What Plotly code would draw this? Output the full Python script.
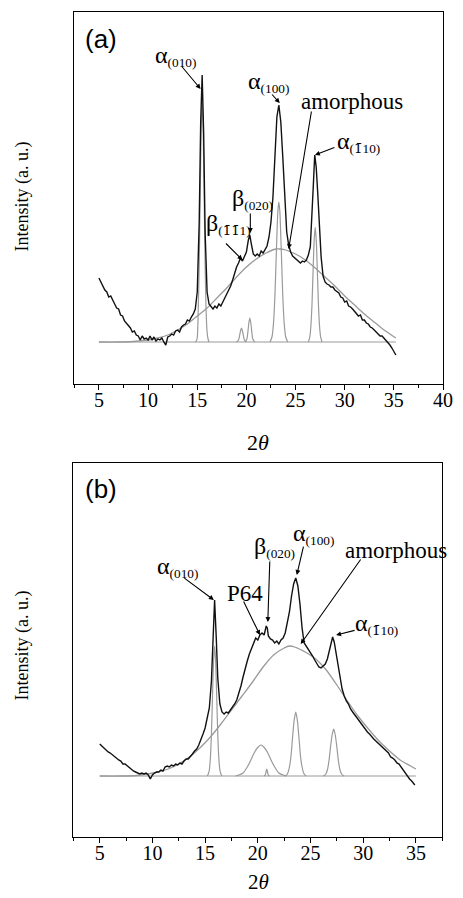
import plotly.graph_objects as go

# ---------------- Panel (a) data ----------------
a_meas_x = [5.0,5.2,5.4,5.6,5.8,6.0,6.2,6.4,6.6,6.8,7.0,7.2,7.4,7.6,7.8,8.0,8.2,8.4,8.6,8.8,9.0,9.2,9.4,9.6,9.8,
            10.0,10.2,10.4,10.6,10.8,11.0,11.2,11.4,11.6,11.8,12.0,12.2,12.4,12.6,12.8,13.0,13.2,13.4,13.6,13.8,
            14.0,14.2,14.4,14.6,14.8,15.0,15.2,15.35,15.5,15.65,15.8,16.0,16.2,16.4,16.6,16.8,17.0,17.2,17.4,17.6,
            17.8,18.0,18.2,18.4,18.6,18.8,19.0,19.2,19.4,19.6,19.8,20.0,20.2,20.35,20.5,20.7,20.9,21.1,21.3,21.5,
            21.7,21.9,22.1,22.3,22.5,22.7,22.9,23.1,23.3,23.5,23.7,23.9,24.1,24.3,24.5,24.7,24.9,25.1,25.3,25.5,
            25.7,25.9,26.1,26.3,26.5,26.65,26.8,26.95,27.1,27.25,27.4,27.6,27.8,28.0,28.2,28.4,28.6,28.8,29.0,
            29.2,29.4,29.6,29.8,30.0,30.2,30.4,30.6,30.8,31.0,31.2,31.4,31.6,31.8,32.0,32.2,32.4,32.6,32.8,33.0,
            33.2,33.4,33.6,33.8,34.0,34.2,34.4,34.6,34.8,35.0,35.2]
a_meas_y = [0.64,0.60,0.57,0.52,0.50,0.45,0.46,0.41,0.38,0.34,0.33,0.27,0.26,0.21,0.19,0.16,0.14,0.10,0.11,0.07,0.06,0.02,0.06,0.03,0.04,
            0.02,0.06,0.02,0.05,0.01,0.03,0.02,0.04,0.00,-0.03,0.05,0.06,0.08,0.07,0.11,0.12,0.10,0.15,0.17,0.18,
            0.22,0.21,0.25,0.28,0.33,0.50,1.20,2.20,2.67,2.10,1.10,0.50,0.38,0.35,0.33,0.36,0.34,0.38,0.36,0.40,
            0.44,0.47,0.52,0.56,0.62,0.70,0.75,0.79,0.84,0.81,0.85,0.90,1.02,1.07,0.98,0.88,0.86,0.88,0.86,0.91,
            0.89,0.93,0.96,1.05,1.20,1.45,1.85,2.25,2.37,2.20,1.85,1.40,1.10,0.97,0.90,0.86,0.84,0.82,0.80,0.79,
            0.81,0.80,0.82,0.87,0.95,1.20,1.55,1.87,1.75,1.50,1.15,0.85,0.66,0.60,0.58,0.57,0.55,0.55,0.52,
            0.50,0.49,0.45,0.44,0.40,0.41,0.36,0.35,0.33,0.31,0.29,0.26,0.27,0.22,0.22,0.19,0.18,0.15,0.14,0.12,
            0.10,0.09,0.06,0.06,0.04,0.02,-0.01,-0.03,-0.06,-0.10,-0.13]
a_amor_x = [5.0,7.0,8.5,10.0,11.0,12.0,13.0,14.0,15.0,16.0,17.0,18.0,19.0,20.0,21.0,22.0,23.0,23.5,24.0,25.0,
            26.0,27.0,28.0,29.0,30.0,31.0,32.0,33.0,34.0,35.2]
a_amor_y = [0.0,0.0,0.005,0.02,0.04,0.07,0.12,0.18,0.26,0.34,0.44,0.54,0.65,0.75,0.83,0.89,0.93,0.93,0.92,0.88,
            0.82,0.74,0.65,0.56,0.46,0.37,0.28,0.20,0.12,0.04]
a_base_x = [5.0, 35.2]
a_base_y = [0.0, 0.0]
a_p010_x = [14.8,14.9,15.0,15.1,15.2,15.3,15.4,15.5,15.6,15.7,15.8,15.9,16.0,16.1,16.2]
a_p010_y = [0.0,0.01,0.04,0.32,0.78,1.46,2.12,2.40,2.12,1.46,0.78,0.32,0.10,0.03,0.0]
a_b111_x = [19.0,19.2,19.3,19.4,19.5,19.6,19.7,19.8,20.0]
a_b111_y = [0.0,0.02,0.06,0.11,0.14,0.11,0.06,0.02,0.0]
a_b020_x = [19.85,20.05,20.15,20.25,20.35,20.45,20.55,20.65,20.85]
a_b020_y = [0.0,0.03,0.10,0.19,0.24,0.19,0.10,0.03,0.0]
a_p100_x = [22.4,22.6,22.75,22.9,23.05,23.2,23.3,23.4,23.55,23.7,23.85,24.0,24.2]
a_p100_y = [0.0,0.05,0.18,0.46,0.91,1.31,1.40,1.31,0.91,0.46,0.18,0.05,0.0]
a_p110_x = [26.3,26.45,26.56,26.67,26.78,26.89,27.0,27.11,27.22,27.33,27.44,27.55,27.7]
a_p110_y = [0.0,0.05,0.16,0.37,0.70,1.01,1.15,1.01,0.70,0.37,0.16,0.05,0.0]

# ---------------- Panel (b) data ----------------
b_meas_x = [5.0,5.2,5.4,5.6,5.8,6.0,6.2,6.4,6.6,6.8,7.0,7.2,7.4,7.6,7.8,8.0,8.2,8.4,8.6,8.8,9.0,9.2,9.4,9.6,9.8,
            10.0,10.2,10.4,10.6,10.8,11.0,11.2,11.4,11.6,11.8,12.0,12.2,12.4,12.6,12.8,13.0,13.2,13.4,13.6,13.8,
            14.0,14.2,14.4,14.6,14.8,15.0,15.2,15.4,15.6,15.75,15.9,16.05,16.2,16.4,16.6,16.8,17.0,17.2,17.4,17.6,
            17.8,18.0,18.2,18.4,18.6,18.8,19.0,19.2,19.4,19.6,19.8,20.0,20.2,20.4,20.6,20.8,20.9,21.0,21.2,21.4,
            21.6,21.8,22.0,22.2,22.4,22.6,22.8,23.0,23.2,23.4,23.6,23.8,24.0,24.2,24.4,24.6,24.8,25.0,25.2,25.4,
            25.6,25.8,26.0,26.2,26.4,26.6,26.8,27.0,27.1,27.25,27.4,27.6,27.8,28.0,28.2,28.4,28.6,28.8,29.0,29.2,
            29.4,29.6,29.8,30.0,30.2,30.4,30.6,30.8,31.0,31.2,31.4,31.6,31.8,32.0,32.2,32.4,32.6,32.8,33.0,33.2,
            33.4,33.6,33.8,34.0,34.2,34.4,34.6,34.8,34.9]
b_meas_y = [0.32,0.30,0.28,0.26,0.24,0.23,0.21,0.20,0.17,0.16,0.15,0.12,0.12,0.10,0.08,0.07,0.05,0.04,0.03,0.02,0.03,0.02,0.03,0.01,-0.03,
            0.01,0.03,0.04,0.04,0.06,0.05,0.09,0.10,0.09,0.11,0.10,0.12,0.11,0.13,0.12,0.15,0.17,0.17,0.19,0.22,
            0.25,0.27,0.31,0.36,0.42,0.48,0.57,0.68,0.95,1.45,1.76,1.40,0.98,0.72,0.64,0.62,0.64,0.63,0.66,0.68,
            0.72,0.76,0.82,0.90,0.99,1.08,1.15,1.22,1.28,1.34,1.38,1.36,1.41,1.43,1.41,1.50,1.48,1.40,1.37,1.36,
            1.33,1.35,1.32,1.36,1.38,1.43,1.52,1.64,1.80,1.92,1.98,1.90,1.72,1.48,1.33,1.30,1.27,1.23,1.20,1.16,
            1.12,1.09,1.08,1.10,1.12,1.17,1.27,1.36,1.39,1.34,1.24,1.12,0.98,0.87,0.80,0.75,0.72,0.67,0.64,0.61,
            0.58,0.56,0.52,0.50,0.47,0.44,0.42,0.39,0.37,0.35,0.33,0.30,0.29,0.26,0.25,0.23,0.19,0.18,0.16,0.13,
            0.12,0.09,0.06,0.03,-0.01,-0.03,-0.05,-0.08,-0.09]
b_amor_x = [5.0,7.0,8.5,9.5,10.5,11.5,12.5,13.5,14.5,15.5,16.5,17.5,18.5,19.5,20.5,21.5,22.5,23.0,23.5,24.5,
            25.5,26.5,27.5,28.5,29.5,30.5,31.5,32.5,33.5,34.5,35.0]
b_amor_y = [0.0,0.0,0.005,0.02,0.04,0.07,0.12,0.19,0.28,0.39,0.52,0.66,0.80,0.94,1.09,1.21,1.28,1.30,1.29,1.24,
            1.17,1.06,0.91,0.75,0.60,0.47,0.35,0.25,0.16,0.10,0.07]
b_base_x = [5.0, 35.0]
b_base_y = [0.0, 0.0]
b_p010_x = [15.2,15.3,15.4,15.5,15.6,15.7,15.8,15.9,16.0,16.1,16.2,16.3,16.4,16.5,16.6]
b_p010_y = [0.0,0.02,0.06,0.18,0.42,0.79,1.15,1.30,1.15,0.79,0.42,0.18,0.06,0.02,0.0]
b_p64_x = [17.9,18.2,18.6,19.0,19.3,19.6,19.95,20.3,20.65,21.0,21.3,21.6,22.0,22.4,22.7]
b_p64_y = [0.0,0.01,0.03,0.09,0.15,0.22,0.28,0.31,0.28,0.22,0.15,0.09,0.03,0.01,0.0]
b_b020_x = [20.6,20.7,20.78,20.85,20.92,21.0,21.1]
b_b020_y = [0.0,0.01,0.04,0.07,0.04,0.01,0.0]
b_p100_x = [22.6,22.7,22.85,23.0,23.15,23.3,23.45,23.6,23.75,23.9,24.05,24.2,24.35,24.5,24.6]
b_p100_y = [0.0,0.007,0.03,0.09,0.20,0.39,0.56,0.64,0.56,0.39,0.20,0.09,0.03,0.007,0.0]
b_p110_x = [26.2,26.3,26.45,26.6,26.75,26.9,27.05,27.2,27.35,27.5,27.65,27.8,27.95,28.1,28.2]
b_p110_y = [0.0,0.005,0.02,0.06,0.15,0.29,0.41,0.47,0.41,0.29,0.15,0.06,0.02,0.005,0.0]

W, H = 463, 898
GRAY = "#9a9a9a"
BLACK = "#111111"

fig = go.Figure()

def add_line(x, y, color, width, xa, ya, shape="spline"):
    fig.add_trace(go.Scatter(x=x, y=y, mode="lines", xaxis=xa, yaxis=ya,
                             line=dict(color=color, width=width, shape=shape, smoothing=0.6),
                             hoverinfo="skip", showlegend=False))

# panel a
add_line(a_base_x, a_base_y, GRAY, 1.2, "x", "y", "linear")
add_line(a_amor_x, a_amor_y, GRAY, 1.3, "x", "y")
for px_, py_ in [(a_p010_x, a_p010_y), (a_b111_x, a_b111_y), (a_b020_x, a_b020_y),
                 (a_p100_x, a_p100_y), (a_p110_x, a_p110_y)]:
    add_line(px_, py_, GRAY, 1.2, "x", "y")
add_line(a_meas_x, a_meas_y, BLACK, 1.4, "x", "y", "linear")

# panel b
add_line(b_base_x, b_base_y, GRAY, 1.2, "x2", "y2", "linear")
add_line(b_amor_x, b_amor_y, GRAY, 1.3, "x2", "y2")
for px_, py_ in [(b_p010_x, b_p010_y), (b_p64_x, b_p64_y), (b_b020_x, b_b020_y),
                 (b_p100_x, b_p100_y), (b_p110_x, b_p110_y)]:
    add_line(px_, py_, GRAY, 1.2, "x2", "y2")
add_line(b_meas_x, b_meas_y, BLACK, 1.4, "x2", "y2", "linear")

SERIF = "Liberation Serif, Times New Roman, serif"
SANS = "Liberation Sans, Arial, sans-serif"

tickfont = dict(family=SERIF, size=20, color="black")
xcommon = dict(showline=True, linecolor="black", linewidth=1.3, mirror=True, showgrid=False, zeroline=False,
               ticks="outside", ticklen=5, tickwidth=1.2, tickcolor="black", dtick=5, tick0=0,
               tickfont=tickfont, ticklabelstandoff=-7,
               minor=dict(ticks="outside", ticklen=3, tickwidth=1, tickcolor="black", dtick=2.5, tick0=0, showgrid=False))
ycommon = dict(showline=True, linecolor="black", linewidth=1.3, mirror=True, showgrid=False, zeroline=False,
               ticks="", showticklabels=False)

fig.update_layout(
    width=W, height=H, margin=dict(l=0, r=0, t=0, b=0),
    paper_bgcolor="white", plot_bgcolor="white",
    xaxis=dict(domain=[76/W, 453/W], range=[2.5, 40.02], anchor="y", **xcommon),
    yaxis=dict(domain=[1-384/H, 1-12/H], range=[-0.42, 3.30], anchor="x", **ycommon),
    xaxis2=dict(domain=[75/W, 452/W], range=[2.5, 37.5], anchor="y2", **xcommon),
    yaxis2=dict(domain=[1-837/H, 1-463/H], range=[-0.61, 3.13], anchor="x2", **ycommon),
)

def ptext(px, py, text, size, family=SERIF, angle=0):
    fig.add_annotation(x=px/W, y=1-py/H, xref="paper", yref="paper", text=text, showarrow=False,
                       xanchor="center", yanchor="middle", textangle=angle,
                       font=dict(family=family, size=size, color="black"))

def arrow(xa, ya, x, y, ax, ay, head=True):
    fig.add_annotation(x=x, y=y, xref=xa, yref=ya, ax=ax, ay=ay, axref="pixel", ayref="pixel",
                       text="", showarrow=True, arrowhead=2 if head else 0, arrowsize=0.9,
                       arrowwidth=1.1, arrowcolor="black", standoff=0, startstandoff=0)

# "1" with a bar above it (combining macron), drawn in one font so the mark sits on the digit
OV = '<span style="font-family:DejaVu Serif">1\u0304</span>'

def greek(sub, letter="α"):
    return f'<span style="font-size:24px">{letter}</span><sub>{sub}</sub>'

# axis titles
ptext(22, 197, "Intensity (a. u.)", 18, angle=-90)
ptext(22, 646, "Intensity (a. u.)", 18, angle=-90)
ptext(264, 442, "2<i>θ</i>", 22)
ptext(264, 882, "2<i>θ</i>", 21)

# panel labels
ptext(103, 39, "(a)", 26, SANS)
ptext(103, 489, "(b)", 26, SANS)

# panel (a) peak labels
ptext(179, 56, greek("(010)"), 19)
arrow("x", "y", 15.34, 2.53, -20, -24)
ptext(274, 82, greek("(100)"), 19)
arrow("x", "y", 23.39, 2.39, -9, -10)
ptext(360, 101, "amorphous", 23)
arrow("x", "y", 24.3, 0.93, 23, -139)
ptext(366, 142, greek(f"({OV}10)"), 19)
arrow("x", "y", 26.97, 1.87, 21, -8)
ptext(258, 199, greek("(020)", "β"), 19)
arrow("x", "y", 20.4, 1.09, 0, -21)
ptext(234, 224, greek(f"({OV}{OV}1)", "β"), 19)
arrow("x", "y", 19.6, 0.82, -18, -18)

# panel (b) peak labels
ptext(181, 567, greek("(010)"), 19)
arrow("x2", "y2", 15.83, 1.76, -31, -23)
ptext(250, 593, "P64", 23)
arrow("x2", "y2", 20.2, 1.41, -17, -35)
ptext(281, 547, greek("(020)", "β"), 19)
arrow("x2", "y2", 20.95, 1.54, 2, -62)
ptext(320, 534, greek("(100)"), 19)
arrow("x2", "y2", 23.7, 2.01, 7, -30)
ptext(405, 550, "amorphous", 23)
arrow("x2", "y2", 24.07, 1.32, 61, -86)
ptext(385, 624, greek(f"({OV}10)"), 19)
arrow("x2", "y2", 27.43, 1.41, 20, -5)

fig.write_html("out.html", config={"displayModeBar": False},
               post_script="document.body.style.margin='0';document.body.style.overflow='hidden';")
